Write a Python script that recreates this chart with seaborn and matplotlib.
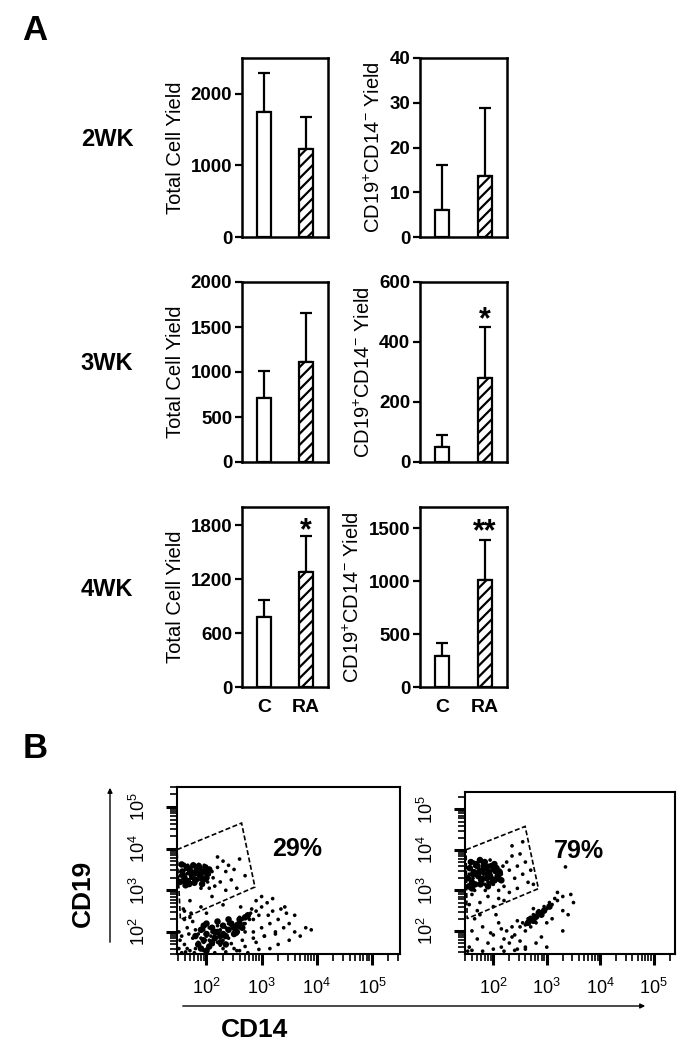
import matplotlib
matplotlib.use("Agg")
import matplotlib.pyplot as plt
from matplotlib.patches import Polygon, FancyArrowPatch
import numpy as np
import pandas as pd
import seaborn as sns

# ------------------------------
# Panel A data (mean and SD per group)
# ------------------------------
groups = ["C", "RA"]
weeks = ["2WK", "3WK", "4WK"]

total_mean = [[1740, 1232], [711, 1111], [773, 1279]]
total_sd = [[547, 444], [297, 541], [192, 402]]
cd19_mean = [[6.0, 13.7], [51, 279], [295, 1008]]
cd19_sd = [[10.1, 15.1], [39, 170], [117, 377]]

total_ylim = [2500, 2000, 2000]
total_ticks = [[0, 1000, 2000], [0, 500, 1000, 1500, 2000], [0, 600, 1200, 1800]]
cd19_ylim = [40, 600, 1700]
cd19_ticks = [[0, 10, 20, 30, 40], [0, 200, 400, 600], [0, 500, 1000, 1500]]

# significance marks: (week index, column, label, y of star centre)
stars = [(1, 1, "*", 497), (2, 0, "*", 1810), (2, 1, "**", 1530)]

# ------------------------------
# Panel B data (log10 CD14, log10 CD19)
# ------------------------------
left_cd14 = [1.55, 1.6, 1.62, 1.65, 1.68, 1.7, 1.72, 1.75, 1.78, 1.8, 1.82, 1.85, 1.88, 1.9, 1.92,
             1.95, 1.98, 2.0, 2.05, 2.1, 1.58, 1.66, 1.74, 1.86, 1.96, 2.02, 2.12, 1.52, 1.6, 1.7,
             2.2, 2.3, 2.35, 2.25, 2.15, 2.4, 2.5, 2.6, 2.45, 2.05, 1.9, 2.55, 2.2, 2.7, 2.35,
             1.7, 1.9, 2.1, 1.6, 2.3, 2.0,
             1.85, 1.9, 1.95, 2.0, 2.05, 2.1, 2.15, 2.2, 2.25, 2.3, 2.35, 2.4, 2.45, 2.5, 2.55,
             2.6, 2.65, 2.7, 2.75, 2.8, 2.85, 2.9, 2.95, 3.0, 1.95, 2.05, 2.2, 2.3, 2.4, 2.55,
             2.6, 2.7, 1.75, 1.8, 2.12, 1.98, 2.08, 2.18, 2.28, 2.38, 2.48, 2.58, 2.68, 2.78,
             3.1, 3.2, 3.3, 3.4, 3.5, 3.6, 3.8, 3.9, 3.15, 3.25, 3.05, 2.9, 3.0, 2.85, 3.3, 3.5,
             2.7, 2.5, 2.3, 3.2, 3.0, 2.9, 3.35, 3.6, 3.7, 2.6,
             1.55, 1.6, 1.65, 1.5, 1.7, 1.6, 1.55, 1.75, 1.65, 1.5, 1.8, 1.9, 2.0, 1.7,
             1.62, 1.78, 1.95, 2.15, 2.35, 2.55, 2.75, 2.95, 3.15, 1.52, 1.68, 1.85, 2.05, 2.25,
             2.45, 2.65, 2.85, 3.05, 3.25, 3.45, 1.58, 1.72, 2.62, 2.82, 3.12, 3.42]
left_cd19 = [3.45, 3.3, 3.5, 3.4, 3.25, 3.55, 3.35, 3.45, 3.3, 3.5, 3.38, 3.25, 3.45, 3.55, 3.35,
             3.42, 3.28, 3.5, 3.38, 3.45, 3.2, 3.6, 3.18, 3.62, 3.6, 3.2, 3.3, 3.35, 3.62, 3.12,
             3.55, 3.7, 3.45, 3.2, 3.1, 3.6, 3.5, 3.75, 3.25, 3.05, 3.05, 3.05, 3.8, 3.35, 3.0,
             2.75, 2.6, 2.85, 2.5, 2.65, 2.45,
             1.95, 1.85, 2.05, 1.9, 1.8, 2.0, 1.9, 1.75, 2.05, 1.95, 2.1, 1.85, 2.15, 2.0, 2.2,
             2.1, 2.3, 2.2, 2.35, 2.45, 2.3, 2.5, 2.4, 2.6, 1.75, 2.1, 2.15, 1.8, 2.2, 1.95,
             2.35, 2.0, 1.85, 2.05, 1.7, 1.95, 1.9, 2.0, 1.9, 2.05, 2.1, 2.15, 2.2, 2.3,
             2.7, 2.5, 2.3, 2.1, 2.2, 2.0, 2.1, 2.05, 2.2, 2.0, 1.9, 1.75, 2.1, 2.0, 1.7, 1.8,
             1.65, 1.6, 1.6, 2.8, 2.85, 2.75, 2.55, 2.4, 1.9, 1.55,
             1.9, 1.7, 2.1, 1.6, 1.55, 2.3, 1.5, 2.25, 1.6, 2.0, 1.6, 1.6, 1.55, 2.35,
             1.52, 1.5, 1.55, 1.5, 1.52, 1.55, 1.5, 1.58, 1.6, 1.8, 1.95, 1.75, 1.62, 1.68,
             1.72, 1.8, 1.85, 1.9, 1.95, 2.45, 2.55, 2.45, 2.6, 2.55, 2.4, 2.6]

# dense cores of the populations, drawn with larger dots
left_core_cd14 = [1.52, 1.56, 1.6, 1.64, 1.68, 1.72, 1.76, 1.8, 1.84, 1.88, 1.92, 1.96, 2.0, 2.05,
                  1.55, 1.62, 1.7, 1.78, 1.86, 1.94, 2.02, 1.58, 1.66, 1.74, 1.82, 1.9, 1.98,
                  1.8, 1.85, 1.9, 1.95, 2.0, 2.05, 2.1, 2.15, 2.2, 2.25, 2.3, 2.35, 2.4, 2.45,
                  2.5, 2.55, 2.6, 2.65, 2.7, 2.75, 1.9, 2.0, 2.1, 2.2, 2.3, 2.4, 2.5, 2.6, 2.0,
                  2.15, 2.35, 2.55, 1.95, 2.25]
left_core_cd19 = [3.2, 3.45, 3.3, 3.55, 3.15, 3.4, 3.6, 3.25, 3.5, 3.35, 3.15, 3.45, 3.3, 3.5,
                  3.62, 3.12, 3.48, 3.18, 3.58, 3.25, 3.4, 3.35, 3.22, 3.32, 3.42, 3.45, 3.55,
                  1.9, 1.7, 2.05, 1.8, 1.95, 1.65, 2.1, 1.85, 2.0, 1.75, 2.15, 1.9, 2.05, 2.2,
                  1.95, 2.15, 2.3, 2.1, 2.35, 2.4, 1.6, 2.2, 1.75, 2.25, 1.95, 2.3, 2.1, 2.2, 1.55,
                  2.0, 1.7, 2.0, 2.15, 1.9]

right_cd14 = [1.55, 1.6, 1.62, 1.65, 1.68, 1.7, 1.72, 1.75, 1.78, 1.8, 1.82, 1.85, 1.88, 1.9, 1.92,
              1.95, 1.98, 2.0, 2.02, 2.05, 2.08, 2.1, 2.12, 2.15, 1.58, 1.63, 1.7, 1.76, 1.84, 1.94,
              2.0, 2.18, 1.52, 1.66, 1.86, 1.74, 1.96, 2.06, 1.64, 1.8, 1.9, 2.04, 1.72, 1.56,
              2.25, 2.3, 2.35, 2.4, 2.45, 2.5, 2.55, 2.6, 2.65, 2.2, 2.3, 2.1, 2.45, 2.7, 2.35,
              2.55, 2.75, 3.35,
              1.6, 1.75, 1.9, 2.0, 1.7, 2.2, 1.55, 1.85, 2.1, 1.65,
              2.5, 2.55, 2.6, 2.65, 2.7, 2.75, 2.8, 2.85, 2.9, 2.95, 3.0, 3.05, 3.1, 3.15, 3.2,
              2.6, 2.7, 2.8, 2.45, 2.75, 3.3, 3.45, 3.3, 3.4, 3.0, 3.1, 3.5, 3.2,
              1.6, 1.7, 1.8, 1.9, 2.0, 2.1, 2.2, 2.25, 2.3, 2.35, 2.4, 2.5, 2.6, 2.8, 1.55, 1.65,
              2.15, 2.45, 2.9, 3.0, 1.75, 2.05, 3.3,
              1.52, 1.6, 1.8, 2.0, 2.2, 2.4, 2.6, 1.95, 2.15, 2.35]
right_cd19 = [3.4, 3.5, 3.3, 3.6, 3.45, 3.35, 3.55, 3.25, 3.45, 3.65, 3.4, 3.3, 3.5, 3.2, 3.6,
              3.4, 3.5, 3.3, 3.45, 3.55, 3.35, 3.25, 3.5, 3.4, 3.2, 3.7, 3.15, 3.72, 3.15, 3.75,
              3.15, 3.6, 3.55, 3.38, 3.42, 3.52, 3.28, 3.42, 3.48, 3.32, 3.62, 3.22, 3.62, 3.3,
              3.7, 3.5, 3.85, 3.3, 3.6, 3.9, 3.4, 3.7, 3.2, 3.1, 2.95, 3.0, 3.05, 3.5, 4.1,
              4.2, 3.15, 3.58,
              2.9, 2.7, 2.85, 2.6, 2.5, 2.75, 2.65, 3.0, 2.8, 3.0,
              2.1, 2.2, 2.15, 2.3, 2.25, 2.4, 2.35, 2.5, 2.45, 2.6, 2.55, 2.7, 2.65, 2.8, 2.75,
              2.0, 2.1, 2.2, 2.25, 2.55, 2.85, 2.9, 2.5, 2.4, 2.2, 2.3, 2.7, 2.95,
              2.0, 1.8, 2.1, 1.7, 1.9, 2.2, 1.8, 2.0, 1.7, 2.1, 1.9, 1.75, 1.6, 1.7, 1.6, 2.3,
              1.6, 1.55, 1.85, 1.6, 2.4, 2.4, 2.0,
              1.5, 1.52, 1.5, 1.55, 1.5, 1.52, 1.55, 1.95, 2.05, 1.85]

right_core_cd14 = [1.52, 1.56, 1.6, 1.64, 1.68, 1.72, 1.76, 1.8, 1.84, 1.88, 1.92, 1.96, 2.0, 2.04,
                   2.08, 2.12, 1.54, 1.62, 1.7, 1.78, 1.86, 1.94, 2.02, 2.1, 1.58, 1.66, 1.74,
                   1.82, 1.9, 1.98, 2.06, 1.6, 1.75, 1.9, 2.15,
                   2.7, 2.8, 2.85, 2.9, 2.75, 2.95, 3.05, 2.65]
right_core_cd19 = [3.3, 3.55, 3.2, 3.45, 3.65, 3.35, 3.15, 3.5, 3.7, 3.3, 3.45, 3.6, 3.25, 3.5,
                   3.35, 3.45, 3.1, 3.4, 3.6, 3.25, 3.55, 3.35, 3.65, 3.3, 3.7, 3.15, 3.45,
                   3.6, 3.4, 3.2, 3.55, 3.05, 3.75, 3.1, 3.25,
                   2.3, 2.35, 2.45, 2.4, 2.25, 2.5, 2.6, 2.2]

gate_left = [(1.465, 3.976), (2.636, 4.614), (2.878, 3.079), (1.527, 2.297)]
gate_right = [(1.49, 4.005), (2.595, 4.58), (2.844, 3.044), (1.51, 2.305)]
percents = ["29%", "79%"]
decades = [2, 3, 4, 5]

# ------------------------------
# Style
# ------------------------------
sns.set_style("white")
plt.rcParams["font.family"] = ["Liberation Sans", "DejaVu Sans"]
plt.rcParams["mathtext.fontset"] = "custom"
plt.rcParams["mathtext.rm"] = "Liberation Sans"
plt.rcParams["mathtext.it"] = "Liberation Sans"
plt.rcParams["mathtext.bf"] = "Liberation Sans:bold"
plt.rcParams["hatch.linewidth"] = 1.6
plt.rcParams["axes.linewidth"] = 1.8
for key in ["text.color", "axes.labelcolor", "xtick.color", "ytick.color", "axes.edgecolor"]:
    plt.rcParams[key] = "black"

W, H = 700, 1061
fig = plt.figure(figsize=(W / 100, H / 100), dpi=100)


def box(x0, y0, x1, y1):
    # pixel box (top-left origin) -> figure fraction rect
    return [x0 / W, 1 - y1 / H, (x1 - x0) / W, (y1 - y0) / H]


# ------------------------------
# Panel A: bar charts
# ------------------------------
row_px = [(58, 237), (282, 462), (507, 687)]
col_px = [(242, 328), (420, 507)]
ylabels = ["Total Cell Yield", r"CD19$^{+}$CD14$^{-}$ Yield"]

for r in range(3):
    for c in range(2):
        means = total_mean[r] if c == 0 else cd19_mean[r]
        sds = total_sd[r] if c == 0 else cd19_sd[r]
        top = total_ylim[r] if c == 0 else cd19_ylim[r]
        ticks = total_ticks[r] if c == 0 else cd19_ticks[r]

        ax = fig.add_axes(box(col_px[c][0], row_px[r][0], col_px[c][1], row_px[r][1]))
        df = pd.DataFrame({"group": groups, "value": means})
        sns.barplot(data=df, x="group", y="value", ax=ax, width=0.333,
                    color="white", edgecolor="black", linewidth=1.6, errorbar=None)
        for i, p in enumerate(ax.patches):
            p.set_facecolor("white")
            p.set_edgecolor("black")
            p.set_zorder(2)
            if i == 1:
                p.set_hatch("///")
        ax.errorbar([0, 1], means, yerr=[[0, 0], sds], fmt="none", ecolor="black",
                    elinewidth=1.6, capsize=4.5, capthick=1.6, zorder=1)

        ax.set_xlim(-0.524, 1.524)
        ax.set_ylim(0, top)
        ax.set_yticks(ticks)
        ax.tick_params(axis="y", direction="out", length=5, width=1.6, pad=2, labelsize=13.5, left=True)
        for lbl in ax.get_yticklabels():
            lbl.set_fontweight("bold")
        ax.tick_params(axis="x", length=0, pad=9, labelsize=14)
        if r == 2:
            for lbl in ax.get_xticklabels():
                lbl.set_fontweight("bold")
        else:
            ax.set_xticklabels([])
        ax.set_xlabel("")
        ax.set_ylabel(ylabels[c], fontsize=14.5, labelpad=4)
        for s in ax.spines.values():
            s.set_visible(True)
            s.set_color("black")
            s.set_linewidth(1.8)

        for (sr, sc, txt, yv) in stars:
            if sr == r and sc == c:
                ax.annotate(txt, xy=(1, yv), xytext=(0, -11), textcoords="offset points",
                            ha="center", va="baseline", fontsize=22, fontweight="bold")

    fig.text(107 / W, 1 - (sum(row_px[r]) / 2 - 8) / H, weeks[r], ha="center", va="center",
             fontsize=17, fontweight="bold")

fig.text(35 / W, 1 - 30 / H, "A", ha="center", va="center", fontsize=25, fontweight="bold")
fig.text(35 / W, 1 - 748 / H, "B", ha="center", va="center", fontsize=25, fontweight="bold")

# ------------------------------
# Panel B: flow cytometry dot plots
# ------------------------------
flow = [
    (box(177, 787, 400, 954), left_cd14, left_cd19, left_core_cd14, left_core_cd19, gate_left,
     (1.465, 5.51), (1.47, 5.48), (3.64, 3.98)),
    (box(465, 792, 675, 954), right_cd14, right_cd19, right_core_cd14, right_core_cd19, gate_right,
     (1.47, 5.40), (1.43, 5.43), (3.61, 3.97)),
]
for k, (rect, lx, ly, cx, cy, gate, xl, yl, txy) in enumerate(flow):
    ax = fig.add_axes(rect)
    dots = pd.DataFrame({"CD14": np.power(10.0, lx), "CD19": np.power(10.0, ly)})
    core = pd.DataFrame({"CD14": np.power(10.0, cx), "CD19": np.power(10.0, cy)})
    sns.scatterplot(data=dots, x="CD14", y="CD19", ax=ax, s=7, color="black",
                    edgecolor="none", linewidth=0)
    sns.scatterplot(data=core, x="CD14", y="CD19", ax=ax, s=22, color="black",
                    edgecolor="none", linewidth=0)
    ax.set_xscale("log")
    ax.set_yscale("log")
    ax.set_xlim(10 ** xl[0], 10 ** xl[1])
    ax.set_ylim(10 ** yl[0], 10 ** yl[1])
    ax.add_patch(Polygon([(10 ** gx, 10 ** gy) for gx, gy in gate], closed=True, fill=False,
                         edgecolor="black", linewidth=1.2, linestyle=(0, (3, 1.5))))
    ax.text(10 ** txy[0], 10 ** txy[1], percents[k], ha="center", va="center",
            fontsize=18, fontweight="bold")

    ax.set_xticks([10 ** d for d in decades])
    ax.set_yticks([10 ** d for d in decades])
    ax.set_xticklabels([rf"$10^{{{d}}}$" for d in decades], fontsize=13)
    ax.set_yticklabels([rf"$10^{{{d}}}$" for d in decades], fontsize=13, rotation=90, va="center")
    ax.tick_params(which="major", direction="out", length=8, width=2.2, left=True, bottom=True)
    ax.tick_params(axis="x", which="major", pad=9)
    ax.tick_params(axis="y", which="major", pad=12)
    ax.tick_params(which="minor", direction="out", length=5, width=1.2, left=True, bottom=True)
    ax.set_xlabel("")
    ax.set_ylabel("")
    for s in ax.spines.values():
        s.set_visible(True)
        s.set_color("black")
        s.set_linewidth(1.5)

# axis arrows and titles
fig.add_artist(FancyArrowPatch(
    (110 / W, 1 - 945 / H), (110 / W, 1 - 785 / H), transform=fig.transFigure,
    arrowstyle="-|>", mutation_scale=7, linewidth=1.0, color="black"))
fig.add_artist(FancyArrowPatch(
    (180 / W, 1 - 1006 / H), (648 / W, 1 - 1006 / H), transform=fig.transFigure,
    arrowstyle="-|>", mutation_scale=7, linewidth=1.0, color="black"))
fig.text(83 / W, 1 - 893 / H, "CD19", rotation=90, ha="center", va="center",
         fontsize=19, fontweight="bold")
fig.text(255 / W, 1 - 1030 / H, "CD14", ha="center", va="center",
         fontsize=19, fontweight="bold")

fig.savefig("out.png", dpi=100)
plt.close(fig)
